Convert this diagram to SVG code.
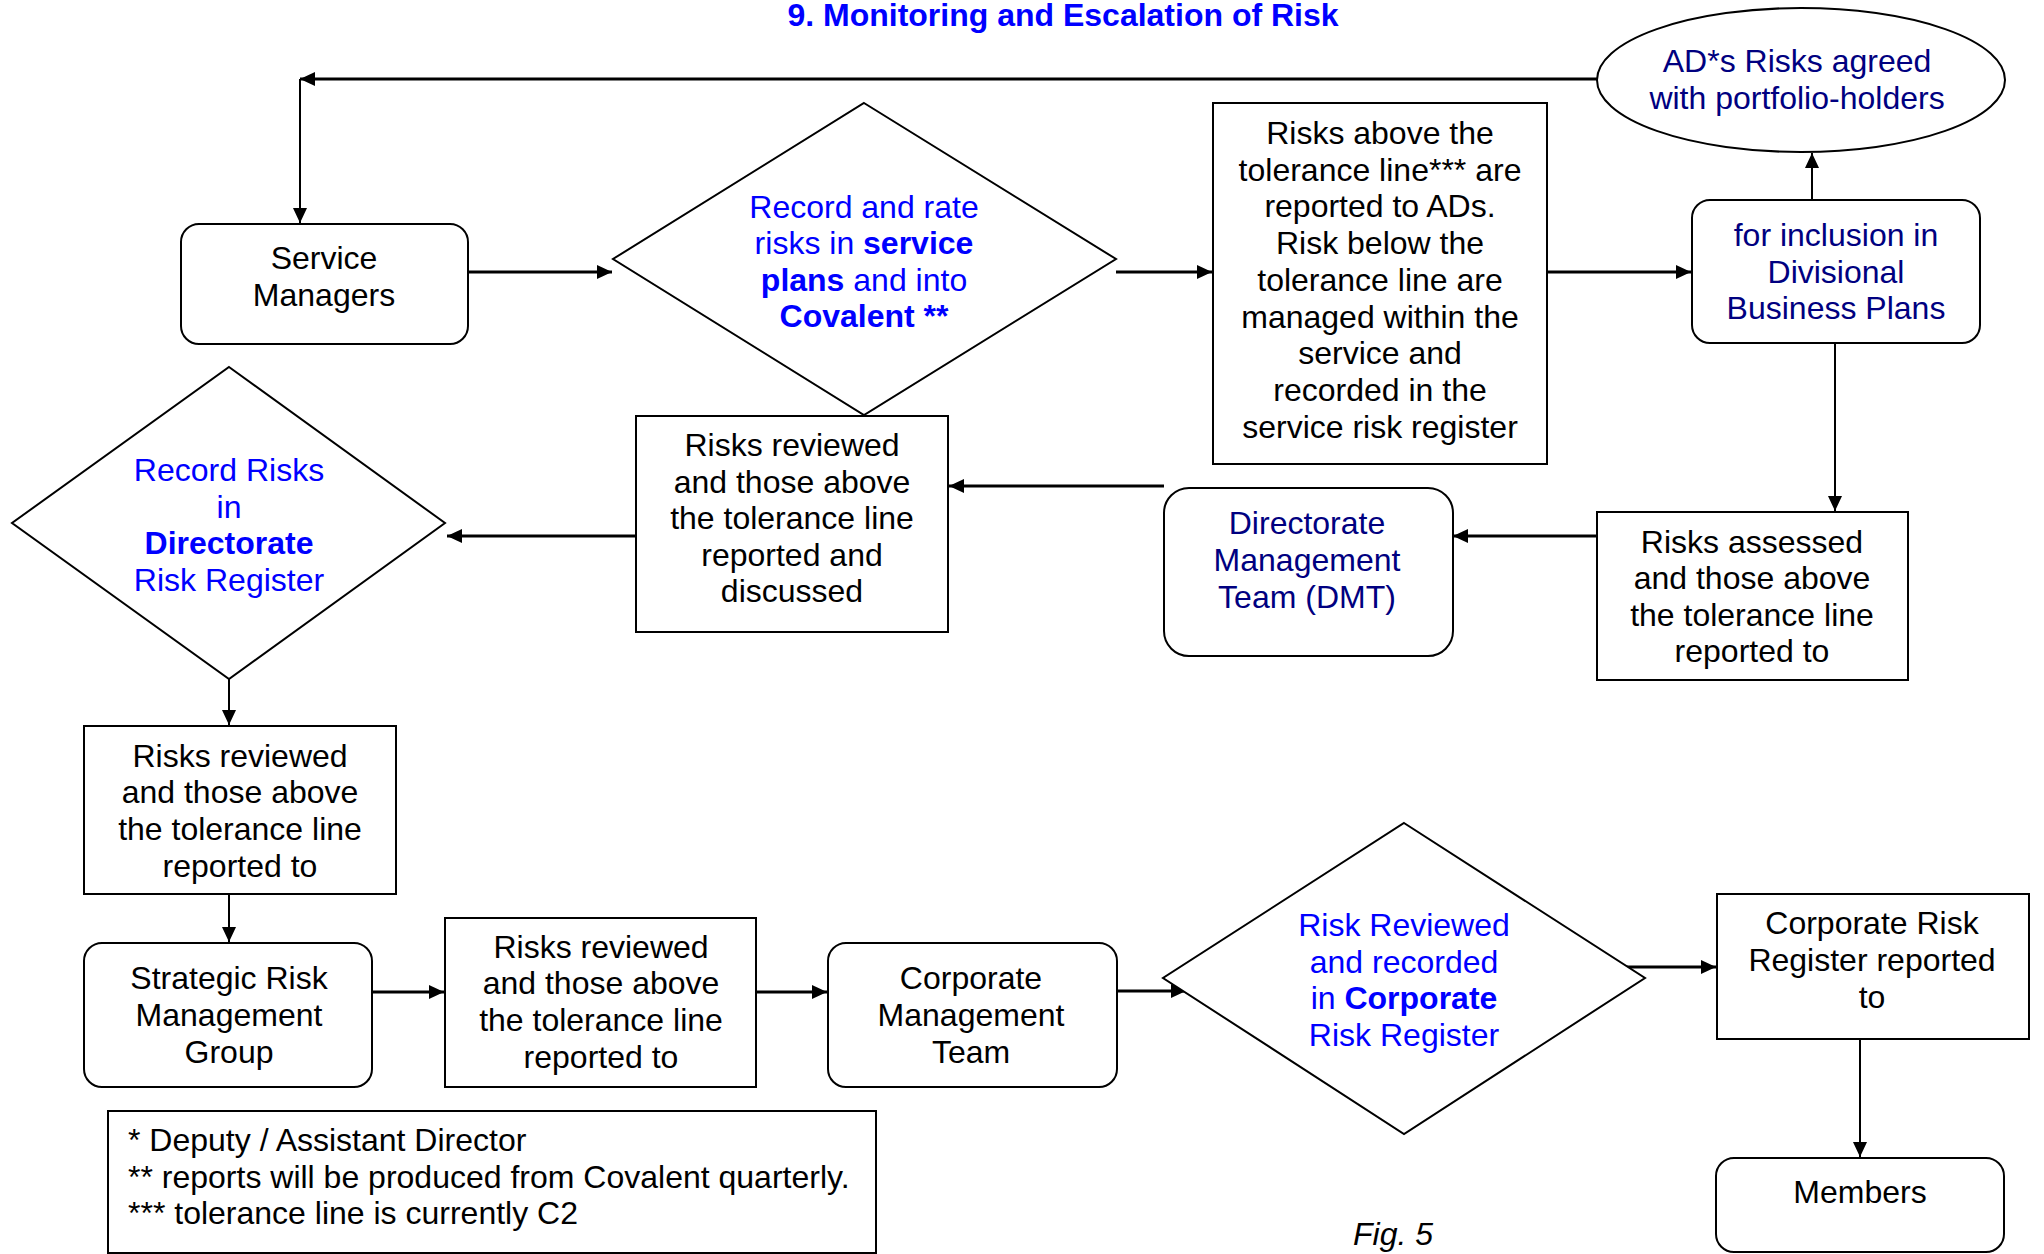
<svg xmlns="http://www.w3.org/2000/svg" width="2044" height="1254" viewBox="0 0 2044 1254">
<style>
text{font-family:"Liberation Sans",Arial,sans-serif;font-size:32px;fill:#000;text-anchor:middle}
.b{font-weight:bold}
.blue{fill:#0000FF}
.navy{fill:#000080}
.shape{fill:#fff;stroke:#000;stroke-width:2}
.h{fill:none;stroke:#000;stroke-width:3;marker-end:url(#ah)}
.v{fill:none;stroke:#000;stroke-width:2;marker-end:url(#ah)}
.left{text-anchor:start}
</style>
<defs>
<marker id="ah" markerWidth="15" markerHeight="14" refX="15" refY="7" orient="auto" markerUnits="userSpaceOnUse">
<path d="M0,0 L15,7 L0,14 z" fill="#000"/>
</marker>
</defs>
<rect width="2044" height="1254" fill="#fff"/>
<text x="1063" y="26" class="b blue">9. Monitoring and Escalation of Risk</text>

<g id="connectors">
<path class="h" d="M1597,79 H300"/>
<path class="v" d="M300,79 V223"/>
<path class="h" d="M468,272 H612"/>
<path class="h" d="M1116,272 H1212"/>
<path class="h" d="M1547,272 H1691"/>
<path class="v" d="M1812,200 V153"/>
<path class="v" d="M1835,343 V511"/>
<path class="h" d="M1597,536 H1453"/>
<path class="h" d="M1164,486 H949"/>
<path class="h" d="M636,536 H447"/>
<path class="v" d="M229,679 V725"/>
<path class="v" d="M229,894 V942"/>
<path class="h" d="M372,992 H444"/>
<path class="h" d="M756,992 H827"/>
<path class="h" d="M1117,991 H1186"/>
<path class="h" d="M1613,967 H1716"/>
<path class="v" d="M1860,1039 V1157"/>
</g>

<g id="ellipse-ad">
<ellipse class="shape" cx="1801" cy="80" rx="204" ry="72"/>
<text x="1797" y="72" class="navy">AD*s Risks agreed</text>
<text x="1797" y="109" class="navy">with portfolio-holders</text>
</g>

<g id="service-managers">
<rect class="shape" x="181" y="224" width="287" height="120" rx="18"/>
<text x="324" y="269">Service</text>
<text x="324" y="306">Managers</text>
</g>

<g id="diamond-record-rate">
<polygon class="shape" points="864,103 1116,259 864,415 613,259"/>
<text x="864" y="218" class="blue">Record and rate</text>
<text x="864" y="254" class="blue">risks in <tspan class="b">service</tspan></text>
<text x="864" y="291" class="blue"><tspan class="b">plans</tspan> and into</text>
<text x="864" y="327" class="blue b">Covalent **</text>
</g>

<g id="box-risks-above">
<rect class="shape" x="1213" y="103" width="334" height="361"/>
<text x="1380" y="144">Risks above the</text>
<text x="1380" y="181">tolerance line*** are</text>
<text x="1380" y="217">reported to ADs.</text>
<text x="1380" y="254">Risk below the</text>
<text x="1380" y="291">tolerance line are</text>
<text x="1380" y="328">managed within the</text>
<text x="1380" y="364">service and</text>
<text x="1380" y="401">recorded in the</text>
<text x="1380" y="438">service risk register</text>
</g>

<g id="for-inclusion">
<rect class="shape" x="1692" y="200" width="288" height="143" rx="18"/>
<text x="1836" y="246" class="navy">for inclusion in</text>
<text x="1836" y="283" class="navy">Divisional</text>
<text x="1836" y="319" class="navy">Business Plans</text>
</g>

<g id="risks-assessed">
<rect class="shape" x="1597" y="512" width="311" height="168"/>
<text x="1752" y="553">Risks assessed</text>
<text x="1752" y="589">and those above</text>
<text x="1752" y="626">the tolerance line</text>
<text x="1752" y="662">reported to</text>
</g>

<g id="dmt">
<rect class="shape" x="1164" y="488" width="289" height="168" rx="25"/>
<text x="1307" y="534" class="navy">Directorate</text>
<text x="1307" y="571" class="navy">Management</text>
<text x="1307" y="608" class="navy">Team (DMT)</text>
</g>

<g id="risks-reviewed-discussed">
<rect class="shape" x="636" y="416" width="312" height="216"/>
<text x="792" y="456">Risks reviewed</text>
<text x="792" y="493">and those above</text>
<text x="792" y="529">the tolerance line</text>
<text x="792" y="566">reported and</text>
<text x="792" y="602">discussed</text>
</g>

<g id="diamond-directorate">
<polygon class="shape" points="229,367 445,523 229,679 12,523"/>
<text x="229" y="481" class="blue">Record Risks</text>
<text x="229" y="518" class="blue">in</text>
<text x="229" y="554" class="blue b">Directorate</text>
<text x="229" y="591" class="blue">Risk Register</text>
</g>

<g id="risks-reviewed-left">
<rect class="shape" x="84" y="726" width="312" height="168"/>
<text x="240" y="767">Risks reviewed</text>
<text x="240" y="803">and those above</text>
<text x="240" y="840">the tolerance line</text>
<text x="240" y="877">reported to</text>
</g>

<g id="srmg">
<rect class="shape" x="84" y="943" width="288" height="144" rx="18"/>
<text x="229" y="989">Strategic Risk</text>
<text x="229" y="1026">Management</text>
<text x="229" y="1063">Group</text>
</g>

<g id="risks-reviewed-middle">
<rect class="shape" x="445" y="918" width="311" height="169"/>
<text x="601" y="958">Risks reviewed</text>
<text x="601" y="994">and those above</text>
<text x="601" y="1031">the tolerance line</text>
<text x="601" y="1068">reported to</text>
</g>

<g id="cmt">
<rect class="shape" x="828" y="943" width="289" height="144" rx="18"/>
<text x="971" y="989">Corporate</text>
<text x="971" y="1026">Management</text>
<text x="971" y="1063">Team</text>
</g>

<g id="diamond-corporate">
<polygon class="shape" points="1404,823 1645,978 1404,1134 1163,978"/>
<text x="1404" y="936" class="blue">Risk Reviewed</text>
<text x="1404" y="973" class="blue">and recorded</text>
<text x="1404" y="1009" class="blue">in <tspan class="b">Corporate</tspan></text>
<text x="1404" y="1046" class="blue">Risk Register</text>
</g>

<g id="corporate-risk-register">
<rect class="shape" x="1717" y="894" width="312" height="145"/>
<text x="1872" y="934">Corporate Risk</text>
<text x="1872" y="971">Register reported</text>
<text x="1872" y="1008">to</text>
</g>

<g id="members">
<rect class="shape" x="1716" y="1158" width="288" height="94" rx="18"/>
<text x="1860" y="1203">Members</text>
</g>

<g id="legend">
<rect class="shape" x="108" y="1111" width="768" height="142"/>
<text x="128" y="1151" class="left">* Deputy / Assistant Director</text>
<text x="128" y="1188" class="left">** reports will be produced from Covalent quarterly.</text>
<text x="128" y="1224" class="left">*** tolerance line is currently C2</text>
</g>

<text x="1353" y="1245" class="left" font-style="italic">Fig. 5</text>
</svg>
